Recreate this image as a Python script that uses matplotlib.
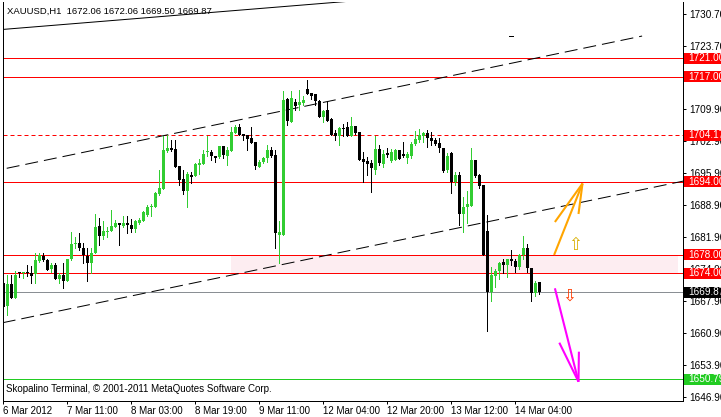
import numpy as np
import matplotlib
matplotlib.use("Agg")
import matplotlib.pyplot as plt
import matplotlib.transforms as mtransforms
from matplotlib.patches import Rectangle

plt.rcParams["font.family"] = ["Liberation Sans", "DejaVu Sans"]

# XAUUSD H1 candles, oldest first
opens = [1671.8, 1666.7, 1671.6, 1668.6, 1674.2, 1674.0, 1674.2, 1674.1, 1673.8, 1676.7,
         1677.8, 1676.9, 1674.8, 1675.8, 1672.7, 1673.6, 1672.3, 1677.0, 1680.3, 1680.7,
         1679.6, 1677.8, 1676.3, 1678.3, 1684.3, 1682.1, 1683.1, 1683.3, 1684.2, 1684.9,
         1684.3, 1685.0, 1684.5, 1683.6, 1684.9, 1685.5, 1686.7, 1688.4, 1688.4, 1691.3,
         1692.4, 1700.8, 1701.3, 1701.2, 1697.4, 1694.6, 1692.0, 1695.5, 1695.3, 1697.7,
         1697.9, 1700.4, 1700.6, 1699.6, 1699.5, 1701.8, 1699.7, 1700.8, 1704.6, 1706.0,
         1704.4, 1704.2, 1703.6, 1702.8, 1697.3, 1698.3, 1699.1, 1700.9, 1699.9, 1682.3,
         1682.3, 1712.1, 1707.1, 1711.4, 1710.8, 1711.2, 1714.3, 1713.4, 1713.2, 1711.7,
         1708.2, 1709.7, 1707.7, 1704.6, 1703.9, 1705.8, 1706.0, 1703.9, 1706.3, 1704.8,
         1699.0, 1698.5, 1698.0, 1696.6, 1701.2, 1697.8, 1700.2, 1698.5, 1698.8, 1700.9,
         1700.1, 1699.3, 1699.7, 1702.2, 1703.1, 1703.9, 1704.7, 1703.5, 1703.1, 1702.4,
         1701.3, 1696.6, 1700.2, 1694.0, 1695.5, 1686.9, 1688.4, 1688.7, 1698.8, 1695.5,
         1693.3, 1683.2, 1669.9, 1673.4, 1674.5, 1676.5, 1675.8, 1677.1, 1676.7, 1675.4,
         1678.0, 1679.6, 1675.1, 1669.6, 1672.06]
highs = [1672.3, 1673.6, 1673.6, 1674.5, 1674.3, 1674.3, 1675.8, 1675.6, 1678.3, 1678.3,
         1678.3, 1677.2, 1676.2, 1676.3, 1674.0, 1676.3, 1677.2, 1682.9, 1681.8, 1682.7,
         1680.5, 1679.6, 1679.4, 1686.9, 1686.0, 1685.3, 1684.0, 1687.8, 1685.6, 1685.0,
         1686.5, 1686.4, 1685.8, 1685.6, 1686.0, 1687.6, 1688.9, 1689.1, 1691.8, 1696.6,
         1703.9, 1704.2, 1703.1, 1703.1, 1697.4, 1696.6, 1696.2, 1696.1, 1698.0, 1698.9,
         1700.9, 1704.0, 1700.9, 1699.6, 1701.8, 1701.8, 1701.5, 1705.9, 1706.4, 1706.6,
         1704.4, 1704.2, 1705.9, 1702.8, 1698.8, 1699.4, 1702.0, 1701.5, 1700.9, 1685.4,
         1713.9, 1712.4, 1713.9, 1712.1, 1714.1, 1712.8, 1716.3, 1713.4, 1713.2, 1711.9,
         1709.7, 1711.7, 1708.0, 1705.3, 1706.0, 1706.6, 1707.1, 1708.2, 1706.3, 1704.8,
         1700.4, 1699.5, 1698.8, 1703.9, 1702.0, 1700.9, 1701.3, 1701.2, 1701.2, 1700.9,
         1702.8, 1700.4, 1702.8, 1705.1, 1705.5, 1704.9, 1705.3, 1704.9, 1703.5, 1703.5,
         1701.3, 1700.2, 1700.4, 1696.2, 1696.2, 1690.6, 1692.0, 1701.3, 1698.8, 1695.8,
         1693.3, 1686.7, 1675.4, 1674.9, 1676.5, 1677.0, 1677.2, 1679.1, 1677.1, 1678.2,
         1682.1, 1680.4, 1675.1, 1672.3, 1672.06]
lows = [1664.8, 1664.8, 1668.5, 1668.5, 1673.2, 1672.9, 1673.4, 1671.8, 1671.8, 1676.5,
        1676.7, 1674.7, 1674.3, 1672.7, 1671.8, 1670.7, 1672.3, 1676.9, 1679.4, 1679.1,
        1676.2, 1672.3, 1674.0, 1678.3, 1680.2, 1681.4, 1682.0, 1683.3, 1684.0, 1680.2,
        1684.0, 1682.7, 1683.1, 1683.1, 1684.8, 1685.3, 1686.6, 1686.4, 1688.4, 1691.1,
        1692.4, 1700.6, 1700.8, 1697.3, 1693.3, 1691.3, 1688.5, 1693.7, 1695.2, 1695.8,
        1697.9, 1699.6, 1698.8, 1698.4, 1699.3, 1699.3, 1697.7, 1700.8, 1704.6, 1704.2,
        1703.1, 1700.9, 1702.5, 1696.7, 1697.2, 1698.2, 1698.4, 1699.5, 1679.4, 1676.3,
        1682.3, 1706.4, 1707.1, 1709.7, 1709.7, 1710.8, 1713.2, 1712.1, 1710.9, 1708.2,
        1707.1, 1707.3, 1704.2, 1703.1, 1702.0, 1703.9, 1703.9, 1703.9, 1704.4, 1698.8,
        1694.0, 1695.5, 1691.8, 1695.6, 1697.7, 1697.3, 1699.5, 1698.4, 1698.8, 1699.0,
        1699.4, 1698.0, 1699.3, 1702.0, 1702.8, 1702.8, 1701.5, 1702.0, 1702.0, 1700.6,
        1696.2, 1696.2, 1691.6, 1693.3, 1684.5, 1682.9, 1685.0, 1688.7, 1695.0, 1692.6,
        1678.0, 1661.4, 1668.0, 1670.9, 1672.7, 1674.1, 1673.2, 1675.8, 1674.3, 1674.8,
        1677.0, 1674.3, 1668.0, 1669.0, 1669.50]
closes = [1666.6, 1671.6, 1668.6, 1673.6, 1674.0, 1674.3, 1674.0, 1673.4, 1676.9, 1678.0,
          1676.9, 1674.7, 1675.8, 1672.7, 1673.6, 1672.3, 1677.1, 1680.4, 1680.7, 1679.6,
          1678.0, 1676.3, 1678.5, 1684.2, 1682.1, 1683.3, 1683.3, 1684.3, 1684.9, 1684.5,
          1685.0, 1684.5, 1683.6, 1685.3, 1685.6, 1687.4, 1688.5, 1688.7, 1691.6, 1692.7,
          1700.9, 1701.4, 1700.9, 1697.3, 1694.4, 1692.0, 1695.7, 1695.1, 1697.9, 1698.2,
          1700.1, 1700.6, 1699.6, 1699.3, 1701.8, 1699.9, 1700.9, 1704.9, 1706.0, 1704.2,
          1704.1, 1703.4, 1702.5, 1697.4, 1698.4, 1699.3, 1700.9, 1699.6, 1682.7, 1682.9,
          1711.9, 1707.3, 1712.4, 1710.6, 1711.5, 1711.9, 1713.2, 1712.8, 1711.7, 1708.2,
          1709.5, 1707.3, 1704.2, 1703.9, 1705.8, 1705.5, 1703.9, 1706.3, 1704.6, 1698.8,
          1698.4, 1697.8, 1696.9, 1701.2, 1698.0, 1700.0, 1699.9, 1700.4, 1700.9, 1699.0,
          1699.7, 1700.0, 1702.3, 1703.3, 1704.2, 1704.7, 1703.5, 1703.0, 1702.3, 1701.3,
          1696.3, 1699.6, 1694.0, 1695.5, 1686.9, 1688.4, 1689.1, 1698.8, 1695.3, 1693.1,
          1678.0, 1669.9, 1673.6, 1674.5, 1676.3, 1675.8, 1677.1, 1676.7, 1675.4, 1678.0,
          1679.6, 1675.1, 1669.6, 1671.8, 1669.87]

tick_bars = [0, 16, 32, 48, 64, 80, 96, 112, 128]
tick_labels = ["6 Mar 2012", "7 Mar 11:00", "8 Mar 03:00", "8 Mar 19:00", "9 Mar 11:00",
               "12 Mar 04:00", "12 Mar 20:00", "13 Mar 12:00", "14 Mar 04:00"]
# 1716.80 sits fully under the 1717.00 label in the original, so it is left out
price_ticks = [1730.7, 1723.7, 1709.9, 1702.9, 1695.9, 1688.9,
               1681.9, 1674.9, 1667.9, 1660.9, 1653.9, 1646.9]

# horizontal levels
red_levels = [1721.00, 1717.00, 1704.17, 1694.00, 1678.00, 1674.00]
red_dashed = [False, False, True, False, False, False]
bid_price = 1669.87
target_price = 1650.79
zone_prices = [1674.00, 1678.00]
zone_bars = [56.9, 168.7]

# trend lines, (bar, price) anchors
top_line = [(0.2, 1727.35), (90.0, 1733.75)]
upper_channel = [(0.85, 1696.94), (159.7, 1725.88)]
lower_channel = [(-0.15, 1663.15), (170.0, 1694.14)]
small_dash = [(126.5, 1725.9), (127.5, 1725.9)]

# hand drawn arrows, (bar, price) polylines
orange_arrow = [[(137.7, 1677.97), (144.8, 1693.61)],
                [(137.9, 1685.19), (144.8, 1693.61)],
                [(143.8, 1686.94), (144.8, 1693.61)]]
magenta_arrow = [[(137.9, 1670.68), (143.8, 1650.24)],
                 [(139.0, 1658.78), (143.8, 1650.24)],
                 [(143.9, 1656.81), (143.8, 1650.24)]]
up_mark = (142.9, 1680.15)
down_mark = (141.4, 1669.0)

W, H = 721, 417
fig = plt.figure(figsize=(W / 100, H / 100), dpi=100)
ax = fig.add_axes([2.7 / W, 16 / H, 680.6 / W, 399 / H])
ax.set_xlim(-0.15, 170.0)
ax.set_ylim(1646.02, 1733.33)

BULL = "#32cd32"
BEAR = "#000000"
px = 0.72  # one pixel in points

# zone
ax.add_patch(Rectangle((zone_bars[0], zone_prices[0]), zone_bars[1] - zone_bars[0],
                       zone_prices[1] - zone_prices[0], facecolor="#fdedf1",
                       edgecolor="none", zorder=0.5))

for p, dashed in zip(red_levels, red_dashed):
    ax.axhline(p, color="red", lw=px, zorder=1,
               linestyle=(0, (4, 3)) if dashed else "-")
ax.axhline(bid_price, color="#8a8f94", lw=px, zorder=1)
ax.axhline(target_price, color="#22cc22", lw=px, zorder=1)

for line in [upper_channel, lower_channel]:
    (x0, y0), (x1, y1) = line
    ax.plot([x0, x1], [y0, y1], color="black", lw=px, linestyle=(0, (13, 6)), zorder=1.5)
for line in [top_line, small_dash]:
    (x0, y0), (x1, y1) = line
    ax.plot([x0, x1], [y0, y1], color="black", lw=px, zorder=1.5)

# candles
o = np.array(opens)
c = np.array(closes)
x = np.arange(len(o))
up = c >= o
cols = np.where(up, BULL, BEAR)
ax.vlines(x, lows, highs, colors=cols, lw=px, zorder=2, antialiased=False)
body_lo = np.minimum(o, c)
body_h = np.maximum(np.abs(c - o), 0.22)
ax.bar(x, body_h, width=0.75, bottom=body_lo, color=cols, linewidth=0,
       zorder=2.1, antialiased=False)

for seg in orange_arrow:
    ax.plot([seg[0][0], seg[1][0]], [seg[0][1], seg[1][1]], color="#ffa500",
            lw=1.5, zorder=3, solid_capstyle="butt")
for seg in magenta_arrow:
    ax.plot([seg[0][0], seg[1][0]], [seg[0][1], seg[1][1]], color="#ff00ff",
            lw=1.5, zorder=3, solid_capstyle="butt")
ax.text(up_mark[0], up_mark[1], "\u21e7", color="#d8b000", fontsize=12,
        ha="center", va="center", family=["DejaVu Sans"], zorder=3)
ax.text(down_mark[0], down_mark[1], "\u21e9", color="#ff3a00", fontsize=12,
        ha="center", va="center", family=["DejaVu Sans"], zorder=3)

# axes styling
for s in ["left", "right", "bottom"]:
    ax.spines[s].set_linewidth(px)
    ax.spines[s].set_color("black")
ax.spines["top"].set_visible(False)
ax.yaxis.tick_right()
ax.set_yticks(price_ticks)
ax.set_yticklabels([f"{v:.2f}" for v in price_ticks])
ax.set_xticks(tick_bars)
ax.set_xticklabels(tick_labels, ha="left")
ax.tick_params(axis="y", direction="out", length=2.2, width=px, pad=1.8, labelsize=7.2)
ax.tick_params(axis="x", direction="out", length=2.5, width=px, pad=1.2, labelsize=7)

# price labels on the right
blend = mtransforms.blended_transform_factory(fig.transFigure, ax.transData)
box_h = (1733.33 - 1646.02) / 399 * 11
labels = [(p, "red") for p in red_levels] + [(bid_price, "black"), (target_price, "#22cc22")]
for p, col in labels:
    ax.add_patch(Rectangle((684 / W, p - box_h / 2), 1, box_h, transform=blend,
                           facecolor=col, edgecolor="none", clip_on=False, zorder=5))
    ax.text(688.5 / W, p, f"{p:.2f}", transform=blend, color="white", fontsize=7.2,
            va="center", ha="left", clip_on=False, zorder=6)

fig.text(7 / W, 1 - 11 / H, "XAUUSD,H1  1672.06 1672.06 1669.50 1669.87",
         fontsize=6.8, va="center", ha="left")
fig.text(6 / W, 1 - 389 / H, "Skopalino Terminal, \u00a9 2001-2011 MetaQuotes Software Corp.",
         fontsize=7, va="center", ha="left")

fig.savefig("out.png", dpi=100)
